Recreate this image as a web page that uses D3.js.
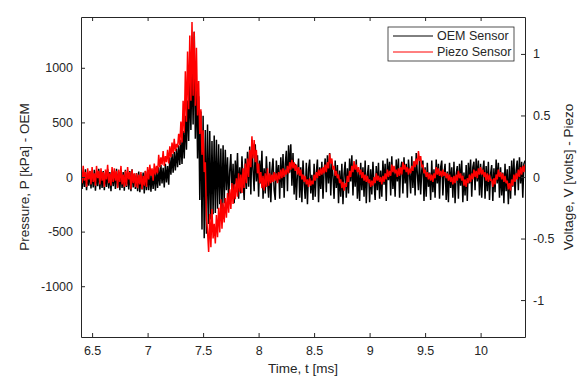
<!DOCTYPE html>
<html>
<head>
<meta charset="utf-8">
<script src="https://cdn.jsdelivr.net/npm/d3@7"></script>
<style>
  body { margin: 0; background: #fff; }
  text { font-family: "Liberation Sans", Arial, sans-serif; fill: #262626; }
</style>
</head>
<body>
<script>
// sampling of both traces (ms)
var tStart = 6.40;
var tStep = 0.01;

// OEM sensor, pressure [kPa]
var oemPressure = [
  60, -110, 45, -90, 70, -120, 30, -80, 55, -105,
  40, -95, 65, -125, 50, -85, 75, -115, 35, -100,
  55, -120, 40, -90, 70, -105, 45, -130, 60, -85,
  50, -110, 75, -95, 35, -120, 60, -100, 45, -125,
  65, -90, 40, -115, 55, -130, 70, -95, 30, -110,
  35, -130, 50, -140, 25, -115, 40, -150, 55, -120,
  45, -120, 60, -135, 30, -110, 70, -125, 50, -100,
  90, -80, 110, -60, 85, -95, 120, -50, 100, -70,
  180, 20, 210, 40, 230, 60, 260, 90, 290, 110,
  340, 120, 420, 170, 560, 250, 700, 330, 880, 430,
  1050, 480, 1330, 350, 880, 170, 740, -210, 600, -480,
  560, -560, 430, -520, 480, -430, 420, -390, 330, -340,
  380, -330, 340, -290, 300, -250, 260, -300, 290, -240,
  250, -120, 180, -230, 60, 210, -190, 120, -240, 150,
  -60, 220, -200, 90, -150, 190, -30, -210, 170, -110,
  230, -90, 280, -160, 340, 60, -130, 300, -40, 200,
  -180, 150, -60, 240, -200, 80, -150, 190, -20, -190,
  140, -230, 60, 170, -120, -210, 150, -40, 110, -200,
  180, -100, 210, -190, 120, 240, -130, 290, 40, 300,
  -80, 220, -160, 120, -210, 30, 170, -190, 90, -230,
  150, -60, -200, 130, -250, 70, 160, -150, 20, -210,
  120, -180, 40, 160, -230, 90, -110, 140, -200, 60,
  170, -140, 200, -60, 220, -170, 130, 10, -200, 150,
  -100, 110, -240, 60, -180, 120, -250, 30, 140, -190,
  80, -150, 170, -40, 200, -170, 120, -90, 160, -200,
  50, -220, 130, -120, 90, -180, 150, -240, 20, 110,
  -230, 70, -160, 140, -60, -210, 100, -120, 130, -200,
  60, -180, 150, -70, 120, -220, 170, -30, 140, -170,
  190, -110, 60, -180, 160, -40, 170, -190, 80, 140,
  -150, 180, -60, 120, -190, 160, 20, -150, 190, -100,
  140, -170, 220, 30, -120, 180, -160, 60, 150, -220,
  90, -180, 130, -90, 40, -210, 150, -140, 70, -190,
  160, -60, 120, -200, 90, 150, -170, 30, 120, -210,
  50, -230, 130, -100, 90, -190, 140, -240, 30, 100,
  -200, 120, -80, 150, -230, 40, -170, 110, -220, 130,
  -60, 160, -180, 90, 140, -120, 170, -40, 150, -170,
  120, -190, 60, 150, -200, 100, -130, 140, -210, 30,
  110, -220, 80, -140, 160, -60, 130, -190, 90, -170,
  40, -240, 120, -130, 70, -250, 100, -200, 150, -90,
  170, -170, 60, 150, -120, 180, -60, 140, -190, 120,
  150
];

// Piezo sensor, voltage [V]
var piezoVoltage = [
  0.06, -0.05, 0.09, -0.03, 0.04, -0.08, 0.07, -0.02, 0.05, -0.06,
  0.08, -0.04, 0.03, -0.07, 0.09, -0.01, 0.05, -0.06, 0.07, -0.03,
  0.04, -0.08, 0.06, -0.02, 0.10, -0.05, 0.03, -0.07, 0.08, -0.04,
  0.07, -0.03, 0.05, -0.09, 0.06, -0.04, 0.09, -0.06, 0.02, -0.08,
  0.05, -0.07, 0.08, -0.02, 0.04, -0.10, 0.06, -0.05, 0.03, -0.08,
  0.03, -0.09, 0.02, -0.06, 0.04, -0.10, 0.01, -0.07, 0.05, -0.08,
  0.08, -0.02, 0.10, 0.01, 0.07, -0.03, 0.11, 0.02, 0.09, 0.03,
  0.18, 0.08, 0.16, 0.10, 0.21, 0.09, 0.17, 0.12, 0.22, 0.11,
  0.25, 0.16, 0.28, 0.19, 0.31, 0.21, 0.27, 0.24, 0.35, 0.26,
  0.45, 0.28, 0.62, 0.36, 0.86, 0.45, 1.02, 0.55, 1.15, 0.62,
  1.26, 0.66, 1.18, 0.58, 1.05, 0.50, 0.78, 0.35, 0.55, 0.18,
  0.38, 0.04, 0.12, -0.33, -0.44, -0.61, -0.30, -0.57, -0.26, -0.50,
  -0.38, -0.54, -0.31, -0.49, -0.25, -0.45, -0.18, -0.42, -0.21, -0.37,
  -0.17, -0.33, -0.13, -0.29, -0.10, -0.26, -0.05, -0.22, -0.06, -0.18,
  -0.01, -0.16, 0.03, -0.12, 0.02, -0.13, 0.07, -0.09, 0.11, -0.05,
  0.15, 0.00, 0.22, 0.08, 0.33, 0.15, 0.30, 0.12, 0.22, 0.03,
  0.11, -0.05, 0.04, -0.09, 0.01, -0.11, 0.03, -0.08, 0.07, -0.07,
  0.03, -0.05, 0.02, -0.04, 0.04, -0.03, 0.03, -0.05, 0.04, -0.02,
  0.06, -0.01, 0.07, 0.00, 0.06, 0.02, 0.09, 0.03, 0.12, 0.06,
  0.14, 0.07, 0.12, 0.05, 0.10, 0.02, 0.08, 0.01, 0.06, -0.02,
  0.02, -0.04, 0.01, -0.06, -0.02, -0.08, -0.01, -0.07, -0.03, -0.06,
  0.02, -0.03, 0.04, -0.01, 0.06, 0.01, 0.07, 0.02, 0.08, 0.03,
  0.10, 0.04, 0.12, 0.07, 0.19, 0.11, 0.15, 0.06, 0.09, 0.01,
  0.05, -0.01, 0.02, -0.05, -0.02, -0.09, -0.04, -0.11, -0.05, -0.08,
  0.01, -0.04, 0.05, 0.00, 0.09, 0.04, 0.13, 0.06, 0.10, 0.04,
  0.08, 0.02, 0.06, -0.01, 0.04, -0.03, 0.02, -0.04, 0.01, -0.05,
  -0.02, -0.08, -0.03, -0.07, 0.00, -0.05, 0.03, -0.03, 0.01, -0.04,
  0.00, -0.06, 0.01, -0.04, 0.03, -0.02, 0.06, 0.00, 0.05, 0.01,
  0.10, 0.04, 0.09, 0.03, 0.06, 0.00, 0.07, 0.01, 0.08, 0.02,
  0.12, 0.06, 0.10, 0.04, 0.08, 0.02, 0.07, 0.03, 0.09, 0.05,
  0.13, 0.08, 0.15, 0.10, 0.21, 0.13, 0.17, 0.08, 0.10, 0.03,
  0.06, 0.00, 0.04, -0.02, 0.03, -0.03, 0.02, -0.04, 0.03, -0.01,
  0.08, 0.02, 0.07, 0.01, 0.05, 0.00, 0.06, 0.01, 0.04, -0.01,
  0.03, -0.03, 0.02, -0.04, 0.00, -0.06, 0.01, -0.05, 0.02, -0.03,
  0.05, -0.01, 0.03, -0.03, 0.01, -0.07, -0.02, -0.08, -0.01, -0.05,
  0.02, -0.04, 0.03, -0.02, 0.06, 0.00, 0.05, -0.01, 0.07, 0.02,
  0.08, 0.02, 0.06, 0.00, 0.04, -0.03, 0.03, -0.04, 0.02, -0.03,
  -0.02, -0.08, -0.01, -0.06, 0.02, -0.02, 0.06, 0.00, 0.04, -0.02,
  0.03, -0.04, 0.01, -0.05, -0.03, -0.10, -0.05, -0.11, -0.02, -0.07,
  0.02, -0.04, 0.03, -0.02, 0.06, 0.00, 0.08, 0.02, 0.09, 0.04,
  0.10
];

var timeTicks = [6.5, 7, 7.5, 8, 8.5, 9, 9.5, 10];
var pressureTicks = [-1000, -500, 0, 500, 1000];
var voltageTicks = [-1, -0.5, 0, 0.5, 1];
var seriesNames = ["OEM Sensor", "Piezo Sensor"];
var seriesColors = ["#000000", "#ff0000"];

var w = 588;
var h = 382;
var margin = { top: 17, right: 63, bottom: 45, left: 81 };
var width = w - margin.left - margin.right;
var height = h - margin.top - margin.bottom;

var x = d3.scaleLinear().domain([6.4, 10.4]).range([0, width]);
var yP = d3.scaleLinear().domain([-1465, 1465]).range([height, 0]);
var yV = d3.scaleLinear().domain([-1.3, 1.3]).range([height, 0]);

// plain labels with a hyphen minus, like MATLAB
var plain = function(d) { return String(d); };

var svg = d3.select("body").append("svg")
    .attr("width", w)
    .attr("height", h);

var chart = svg.append("g")
    .attr("transform", "translate(" + margin.left + "," + margin.top + ")");

svg.append("defs").append("clipPath")
    .attr("id", "clip")
  .append("rect")
    .attr("width", width)
    .attr("height", height);

var plot = chart.append("g").attr("clip-path", "url(#clip)");

//black trace on the left axis, red on the right one
var lineP = d3.line()
    .x(function(d, i) { return x(tStart + i * tStep); })
    .y(function(d) { return yP(d); });

var lineV = d3.line()
    .x(function(d, i) { return x(tStart + i * tStep); })
    .y(function(d) { return yV(d); });

plot.append("path")
    .datum(oemPressure)
    .attr("fill", "none")
    .attr("stroke", seriesColors[0])
    .attr("stroke-width", 1.5)
    .attr("stroke-linejoin", "bevel")
    .attr("d", lineP);

plot.append("path")
    .datum(piezoVoltage)
    .attr("fill", "none")
    .attr("stroke", seriesColors[1])
    .attr("stroke-width", 1.5)
    .attr("stroke-linejoin", "bevel")
    .attr("d", lineV);

//axes, MATLAB style ticks pointing inwards
function styleAxis(g) {
    g.select(".domain").attr("stroke", "#262626");
    g.selectAll(".tick line").attr("stroke", "#262626");
    g.selectAll(".tick text")
        .style("font-size", "12.5px")
        .style("fill", "#262626");
}

chart.append("g")
    .attr("transform", "translate(0," + height + ")")
    .call(d3.axisBottom(x).tickValues(timeTicks).tickSize(-4).tickPadding(9).tickSizeOuter(0)
        .tickFormat(plain))
    .call(styleAxis);

chart.append("g")
    .call(d3.axisTop(x).tickValues(timeTicks).tickSize(-4).tickSizeOuter(0).tickFormat(""))
    .call(styleAxis);

chart.append("g")
    .call(d3.axisLeft(yP).tickValues(pressureTicks).tickSize(-4).tickPadding(8).tickSizeOuter(0)
        .tickFormat(plain))
    .call(styleAxis);

chart.append("g")
    .attr("transform", "translate(" + width + ",0)")
    .call(d3.axisRight(yV).tickValues(voltageTicks).tickSize(-4).tickPadding(8).tickSizeOuter(0)
        .tickFormat(plain))
    .call(styleAxis);

//axis titles
chart.append("text")
    .attr("x", width / 2)
    .attr("y", height + 36)
    .style("font-size", "13.5px")
    .style("text-anchor", "middle")
    .text("Time, t [ms]");

chart.append("text")
    .attr("transform", "translate(" + (-52) + "," + (height / 2) + ") rotate(-90)")
    .style("font-size", "13.5px")
    .style("text-anchor", "middle")
    .text("Pressure, P [kPa] - OEM");

chart.append("text")
    .attr("transform", "translate(" + (width + 48) + "," + (height / 2) + ") rotate(-90)")
    .style("font-size", "13.5px")
    .style("text-anchor", "middle")
    .text("Voltage, V [volts] - Piezo");

//legend
var legend = chart.append("g")
    .attr("transform", "translate(" + (width - 137) + ",10)");

legend.append("rect")
    .attr("width", 126)
    .attr("height", 34)
    .attr("fill", "#fff")
    .attr("stroke", "#262626")
    .attr("stroke-width", 0.8);

seriesNames.forEach(function(name, i) {
    legend.append("line")
        .attr("x1", 5)
        .attr("x2", 45)
        .attr("y1", 9 + i * 16)
        .attr("y2", 9 + i * 16)
        .attr("stroke", seriesColors[i])
        .attr("stroke-width", 1);
    legend.append("text")
        .attr("x", 49)
        .attr("y", 13 + i * 16)
        .style("font-size", "12.5px")
        .text(name);
});
</script>
</body>
</html>
